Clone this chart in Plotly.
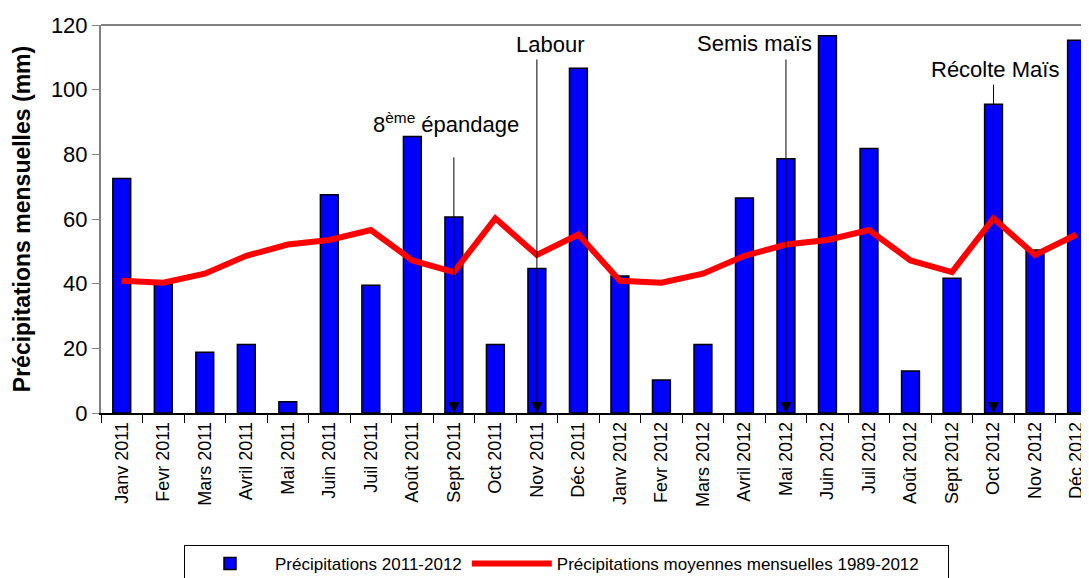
import plotly.graph_objects as go

months = ["Janv 2011", "Fevr 2011", "Mars 2011", "Avril 2011", "Mai 2011", "Juin 2011",
          "Juil 2011", "Août 2011", "Sept 2011", "Oct 2011", "Nov 2011", "Déc 2011",
          "Janv 2012", "Fevr 2012", "Mars 2012", "Avril 2012", "Mai 2012", "Juin 2012",
          "Juil 2012", "Août 2012", "Sept 2012", "Oct 2012", "Nov 2012", "Déc 2012"]

precip_2011_2012 = [72.5, 39.8, 18.8, 21.2, 3.5, 67.5, 39.5, 85.5, 60.6, 21.2, 44.7, 106.6,
                    42.4, 10.2, 21.2, 66.5, 78.6, 116.7, 81.8, 13.0, 41.7, 95.5, 50.4, 115.3]

precip_mean_1989_2012 = [40.9, 40.3, 43.1, 48.6, 52.1, 53.5, 56.6, 47.2, 43.6, 60.2, 48.9, 55.2,
                         40.9, 40.3, 43.1, 48.6, 52.1, 53.5, 56.6, 47.2, 43.6, 60.2, 48.9, 55.2]

events = ["Sept 2011", "Nov 2011", "Mai 2012", "Oct 2012"]
event_labels = ["8<sup>ème</sup> épandage", "Labour", "Semis maïs", "Récolte Maïs"]
arrow_tail_y = [79.5, 109.8, 109.8, 102.0]
label_pos = [(7.80, 89.7), (10.32, 114.1), (15.24, 114.4), (21.03, 106.1)]

FONT = "Arial, Liberation Sans, sans-serif"

# page body has an 8px margin; compensate so the plot area lands where the reference has it
OFF = 8
W, H = 1089 - OFF, 578 - OFF
L, T, B = 101 - OFF, 25 - OFF, 165
PLOT_H = H - T - B

fig = go.Figure()
fig.add_trace(go.Bar(
    x=months, y=precip_2011_2012, name="Précipitations 2011-2012",
    marker=dict(color="#0000FF", line=dict(color="black", width=1.5)),
))
fig.add_trace(go.Scatter(
    x=months, y=precip_mean_1989_2012, mode="lines",
    name="Précipitations moyennes mensuelles 1989-2012" + "\u00a0" * 5,
    line=dict(color="#FF0000", width=6),
))

annotations = []
for ev, tail in zip(events, arrow_tail_y):
    annotations.append(dict(
        x=ev, y=0, xref="x", yref="y", ax=ev, ay=tail, axref="x", ayref="y",
        text="", showarrow=True, arrowhead=2, arrowsize=2.2, arrowwidth=1,
        arrowcolor="black",
    ))
for lab, (lx, ly) in zip(event_labels, label_pos):
    annotations.append(dict(
        x=lx, y=ly, xref="x", yref="y", text=lab, showarrow=False,
        font=dict(family=FONT, size=22, color="black"),
    ))

fig.update_layout(
    width=W, height=H,
    margin=dict(l=L, r=0, t=T, b=B, autoexpand=False),
    plot_bgcolor="white", paper_bgcolor="white",
    bargap=0.57,
    showlegend=True,
    legend=dict(
        orientation="h", x=(184 - 101) / (W - L), xanchor="left",
        y=-(545 - 413) / PLOT_H, yanchor="top",
        bordercolor="black", borderwidth=1, itemwidth=80,
        font=dict(family=FONT, size=17, color="black"),
    ),
    font=dict(family=FONT, color="black"),
    annotations=annotations,
    shapes=[dict(type="line", xref="paper", yref="paper", x0=0, x1=1, y0=1, y1=1,
                 line=dict(color="#808080", width=2))],
)

fig.update_xaxes(
    type="category", range=[-0.5, 23.3], automargin=False,
    tickangle=-90, tickfont=dict(family=FONT, size=18, color="black"),
    showline=True, linecolor="black", linewidth=1.5,
    ticks="outside", tickson="boundaries", ticklen=8, tickcolor="black",
    showgrid=False,
)
fig.update_yaxes(
    range=[0, 120], dtick=20, automargin=False,
    tickfont=dict(family=FONT, size=22, color="black"),
    showline=True, linecolor="#808080", linewidth=2,
    ticks="outside", ticklen=7, tickcolor="#808080",
    showgrid=False, zeroline=False,
    title=dict(text="<b>Précipitations mensuelles (mm)</b>",
               font=dict(family=FONT, size=23, color="black"), standoff=14),
)

fig.write_html("out.html")
